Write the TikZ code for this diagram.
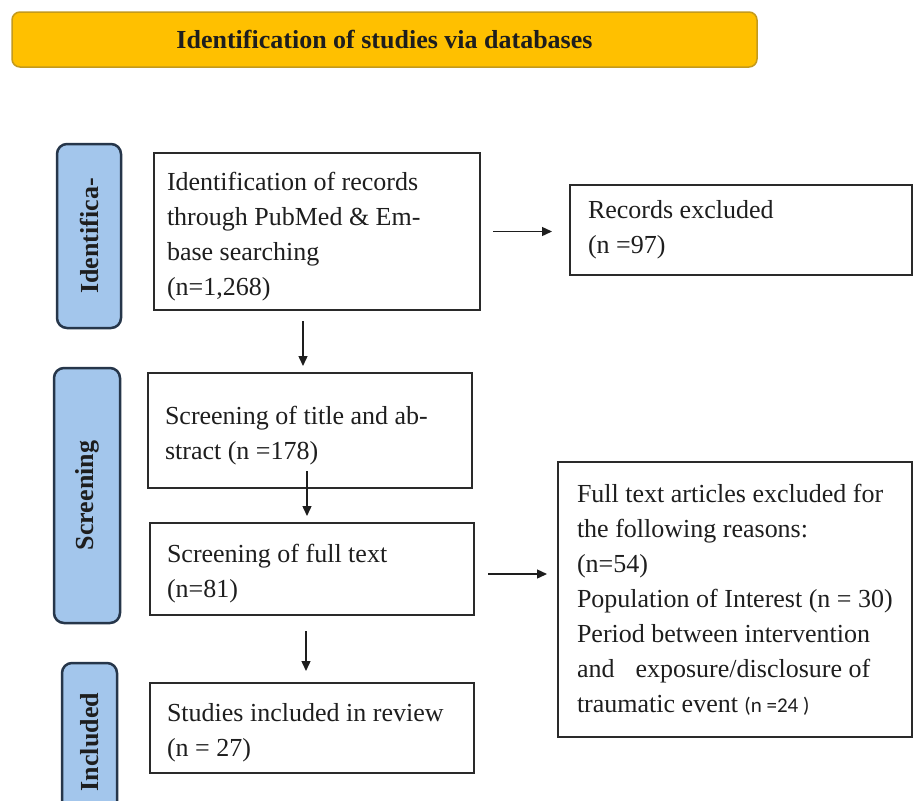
\documentclass[tikz,border=0pt]{standalone}
\usepackage{fontspec}
\setmainfont{Liberation Serif}
\newfontfamily\smallsans{Carlito}
\usetikzlibrary{arrows.meta,calc}
\definecolor{hdrfill}{HTML}{FFC000}
\definecolor{hdrline}{HTML}{C49A1C}
\definecolor{lblfill}{HTML}{A3C6EC}
\definecolor{lblline}{HTML}{26364A}
\definecolor{boxline}{HTML}{2A2A2A}
\definecolor{txt}{HTML}{1E1E1E}
\newcommand{\myTopStrut}{\rule{0pt}{28pt}}
\begin{document}
\begin{tikzpicture}[x=1pt,y=-1pt,
  hdr/.style={draw=hdrline, line width=1.5pt, fill=hdrfill, rounded corners=8pt,
    minimum width=745pt, minimum height=55pt, inner sep=0pt,
    font=\fontsize{26}{30}\selectfont\bfseries, text=txt},
  lbl/.style={draw=lblline, line width=2.5pt, fill=lblfill, rounded corners=10pt,
    inner sep=0pt, rotate=90, font=\fontsize{26}{30}\selectfont\bfseries, text=txt},
  box/.style={draw=boxline, line width=2pt, fill=white, align=flush left,
    inner ysep=0pt, font=\fontsize{26}{35}\selectfont, text=txt},
  arr/.style={draw=txt, line width=1.4pt, -{Triangle[length=10pt,width=9pt]}}
]
\clip (0,0) rectangle (914,801);
\useasboundingbox (0,0) rectangle (914,801);
\fill[white] (0,0) rectangle (914,801);

% header
\node[hdr] (head) at (384.5,39.5) {Identification of studies via databases};

% stage labels
\node[lbl, minimum width=184pt, minimum height=64pt] (lid) at (89,236) {Identifica-};
\node[lbl, minimum width=255pt, minimum height=66pt] (lsc) at (87,495.5) {Screening};
\node[lbl, minimum width=158pt, minimum height=55pt] (linc) at (89.5,742) {Included};

% main boxes
\node[box, inner xsep=13pt, text width=300pt, minimum height=157pt] (b1) at (317,231.5)
  {\myTopStrut Identification of records\\through PubMed \& Em-\\base searching\\(n=1,268)};
\node[box, inner xsep=18pt, text width=306pt, minimum height=90pt] (rex) at (741,230)
  {Records excluded\\(n =97)};
\node[box, inner xsep=17pt, text width=290pt, minimum height=115pt] (b2) at (310,430.5)
  {\myTopStrut\mbox{Screening of title and ab-}\\stract (n =178)};
\node[box, inner xsep=17pt, text width=290pt, minimum height=92pt] (b3) at (312,569)
  {\myTopStrut Screening of full text\\(n=81)};
\node[box, inner xsep=17pt, text width=290pt, minimum height=90pt] (b4) at (312,728)
  {\myTopStrut Studies included in review\\(n = 27)};
\node[box, inner xsep=19pt, text width=316pt, minimum height=275pt] (rfull) at (735,599.5)
  {\mbox{Full text articles excluded for}\\the following reasons:\\(n=54)\\\mbox{Population of Interest (n = 30)}\\\mbox{Period between intervention}\\\mbox{and\hspace{0.81em}exposure/disclosure of}\\\mbox{traumatic event {\smallsans\fontsize{21}{35}\selectfont (n =24 )}}};

% connectors
\draw[arr, shorten <=10pt, shorten >=6pt] ([xshift=-14pt]b1.south) -- ([xshift=-7pt]b2.north);
\draw[arr, shorten <=-18pt, shorten >=6pt] ([xshift=-3pt]b2.south) -- ([xshift=-5pt]b3.north);
\draw[arr, shorten <=15pt, shorten >=11pt] ([xshift=-6pt]b3.south) -- ([xshift=-6pt]b4.north);
\draw[arr, shorten <=12pt, shorten >=17pt] (b1.east) -- (b1.east -| rex.west);
\draw[arr, shorten <=13pt, shorten >=10pt] ($(b3.east)+(0,5)$) -- ($(b3.east -| rfull.west)+(0,5)$);
\end{tikzpicture}
\end{document}
